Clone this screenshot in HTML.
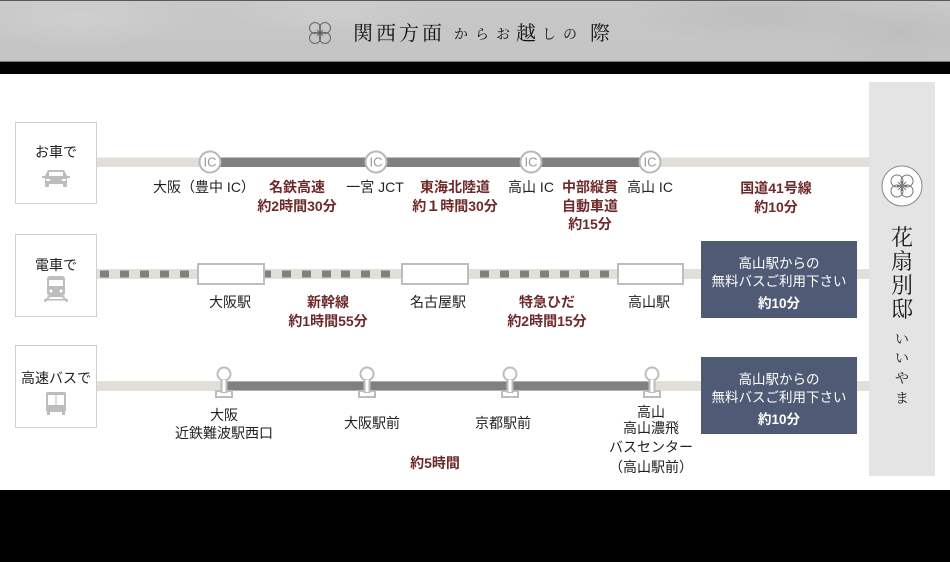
<!DOCTYPE html>
<html><head><meta charset="utf-8">
<style>
html,body{margin:0;padding:0;background:#fff;}
body{width:950px;height:562px;position:relative;overflow:hidden;font-family:"Liberation Sans","Noto Sans CJK JP",sans-serif;}
#hdr{position:absolute;left:0;top:0;width:950px;height:61px;
background:
radial-gradient(ellipse 120px 30px at 80px 18px,rgba(255,255,255,.15),rgba(255,255,255,0)),
radial-gradient(ellipse 100px 25px at 330px 10px,rgba(255,255,255,.12),rgba(255,255,255,0)),
radial-gradient(ellipse 140px 30px at 760px 12px,rgba(120,120,120,.12),rgba(0,0,0,0)),
radial-gradient(ellipse 90px 30px at 900px 30px,rgba(120,120,120,.10),rgba(0,0,0,0)),
linear-gradient(#c8c8c8,#c4c4c4);
border-top:1px solid #5a5a5a;box-sizing:border-box;}
#blk1{position:absolute;left:0;top:61px;width:950px;height:13px;background:#000;border-top:1px solid #7a7a7a;box-sizing:border-box;}
#blk2{position:absolute;left:0;top:490px;width:950px;height:72px;background:#000;}
svg{position:absolute;left:0;top:0;}
</style></head><body>
<div id="hdr"></div>
<div id="blk1"></div>
<div id="blk2"></div>
<svg width="950" height="562" viewBox="0 0 950 562" xmlns="http://www.w3.org/2000/svg">
<!-- header emblem -->
<g transform="translate(320,33)" fill="none" stroke="#666" stroke-width="1">
<circle cx="-5" cy="-5" r="5.5"/><circle cx="5" cy="-5" r="5.5"/><circle cx="-5" cy="5" r="5.5"/><circle cx="5" cy="5" r="5.5"/>
<path d="M-3 -3L3 3M3 -3L-3 3M0 -4V4M-4 0H4"/>
</g>
<g font-family="'Liberation Serif','Noto Serif CJK SC',serif" fill="#111">
<text x="353" y="40" font-size="20">関</text>
<text x="376" y="40" font-size="20">西</text>
<text x="399" y="40" font-size="20">方</text>
<text x="422" y="40" font-size="20">面</text>
<text x="454" y="39" font-size="14">か</text>
<text x="475" y="39" font-size="14">ら</text>
<text x="496" y="39" font-size="14">お</text>
<text x="516" y="40" font-size="20">越</text>
<text x="542" y="39" font-size="14">し</text>
<text x="563" y="39" font-size="14">の</text>
<text x="590" y="40" font-size="20">際</text>
</g>

<!-- right panel -->
<rect x="869" y="82" width="66" height="394" fill="#e4e4e4"/>
<circle cx="902" cy="186" r="20" fill="#fff" stroke="#888" stroke-width="1"/>
<g transform="translate(902,186)" fill="none" stroke="#777" stroke-width="1">
<circle cx="-5" cy="-5" r="6"/><circle cx="5" cy="-5" r="6"/><circle cx="-5" cy="5" r="6"/><circle cx="5" cy="5" r="6"/>
<path d="M-4 -4L4 4M4 -4L-4 4M0 -5V5M-5 0H5"/>
</g>
<g font-family="'Liberation Serif','Noto Serif CJK SC',serif" fill="#1a1a1a" text-anchor="middle">
<text x="902" y="245" font-size="22">花</text>
<text x="902" y="269" font-size="22">扇</text>
<text x="902" y="293" font-size="22">別</text>
<text x="902" y="317" font-size="22">邸</text>
<text x="902" y="344" font-size="14">い</text>
<text x="902" y="363" font-size="14">い</text>
<text x="902" y="383" font-size="14">や</text>
<text x="902" y="403" font-size="14">ま</text>
</g>

<!-- left boxes -->
<g fill="#fff" stroke="#cfcfcf" stroke-width="1">
<rect x="15.5" y="122.5" width="81" height="81"/>
<rect x="15.5" y="234.5" width="81" height="82"/>
<rect x="15.5" y="345.5" width="81" height="82"/>
</g>
<g font-size="14" fill="#222" text-anchor="middle">
<text x="56" y="157">お車で</text>
<text x="56" y="270">電車で</text>
<text x="56" y="383">高速バスで</text>
</g>
<!-- car icon -->
<g fill="#bdbdbd">
<path d="M48 170 H64 L67 176 H70 V178 H67 V184 H45 V178 H42 V176 H45 Z"/>
<rect x="45" y="184" width="4" height="3"/><rect x="63" y="184" width="4" height="3"/>
<rect x="49" y="172" width="14" height="4" fill="#fff"/>
<rect x="46" y="179" width="4" height="2" fill="#fff"/><rect x="62" y="179" width="4" height="2" fill="#fff"/>
</g>
<!-- train icon -->
<g fill="#bdbdbd">
<rect x="47" y="276" width="18" height="20" rx="3"/>
<rect x="49" y="280" width="14" height="6" fill="#fff"/>
<circle cx="51" cy="291" r="1.5" fill="#fff"/><circle cx="61" cy="291" r="1.5" fill="#fff"/>
<path d="M48 296 L44 302 H46 L50 297 H62 L66 302 H68 L64 296 Z"/>
<rect x="44" y="299" width="24" height="1.5"/>
</g>
<!-- bus icon -->
<g fill="#bdbdbd">
<rect x="46" y="392" width="20" height="20" rx="2"/>
<rect x="48" y="395" width="7.5" height="10" fill="#fff"/><rect x="56.5" y="395" width="7.5" height="10" fill="#fff"/>
<rect x="47" y="412" width="3" height="3"/><rect x="62" y="412" width="3" height="3"/>
</g>

<!-- row 1: car -->
<rect x="97" y="157.5" width="772" height="9.5" fill="#e2dfd9"/>
<rect x="210" y="157.5" width="440" height="9.5" fill="#808080"/>
<g fill="#fff" stroke="#b8b8b8" stroke-width="2">
<circle cx="210" cy="162" r="10.5"/><circle cx="376" cy="162" r="10.5"/><circle cx="531" cy="162" r="10.5"/><circle cx="650" cy="162" r="10.5"/>
</g>
<g font-size="13" fill="#999" text-anchor="middle">
<text x="210" y="166.5">IC</text><text x="376" y="166.5">IC</text><text x="531" y="166.5">IC</text><text x="650" y="166.5">IC</text>
</g>
<g font-size="14" fill="#222" text-anchor="middle">
<text x="204" y="192">大阪（豊中 IC）</text>
<text x="375" y="192">一宮 JCT</text>
<text x="531" y="192">高山 IC</text>
<text x="650" y="192">高山 IC</text>
</g>
<g font-size="14" fill="#6e2a2a" font-weight="bold" text-anchor="middle">
<text x="297" y="192">名鉄高速</text>
<text x="297" y="211">約2時間30分</text>
<text x="455" y="192">東海北陸道</text>
<text x="455" y="211">約１時間30分</text>
<text x="590" y="192">中部縦貫</text>
<text x="590" y="211">自動車道</text>
<text x="590" y="229">約15分</text>
<text x="776" y="193">国道41号線</text>
<text x="776" y="212">約10分</text>
</g>

<!-- row 2: train -->
<rect x="97" y="269" width="772" height="10" fill="#e2dfd9"/>
<g fill="#808080">
<rect x="100" y="270.5" width="9" height="7"/><rect x="120" y="270.5" width="9" height="7"/><rect x="140" y="270.5" width="9" height="7"/><rect x="160" y="270.5" width="9" height="7"/><rect x="180" y="270.5" width="9" height="7"/>
<rect x="262" y="270.5" width="9" height="7"/><rect x="282" y="270.5" width="9" height="7"/><rect x="302" y="270.5" width="9" height="7"/><rect x="322" y="270.5" width="9" height="7"/><rect x="341" y="270.5" width="9" height="7"/><rect x="361" y="270.5" width="9" height="7"/><rect x="381" y="270.5" width="9" height="7"/>
<rect x="480" y="270.5" width="9" height="7"/><rect x="500" y="270.5" width="9" height="7"/><rect x="520" y="270.5" width="9" height="7"/><rect x="540" y="270.5" width="9" height="7"/><rect x="560" y="270.5" width="9" height="7"/><rect x="580" y="270.5" width="9" height="7"/><rect x="600" y="270.5" width="9" height="7"/>
</g>
<g fill="#fff" stroke="#bdbdbd" stroke-width="2">
<rect x="198" y="264" width="66" height="20"/>
<rect x="402" y="264" width="66" height="20"/>
<rect x="618" y="264" width="65" height="20"/>
</g>
<g font-size="14" fill="#222" text-anchor="middle">
<text x="230" y="307">大阪駅</text>
<text x="438" y="307">名古屋駅</text>
<text x="649" y="307">高山駅</text>
</g>
<g font-size="14" fill="#6e2a2a" font-weight="bold" text-anchor="middle">
<text x="328" y="307">新幹線</text>
<text x="328" y="326">約1時間55分</text>
<text x="547" y="307">特急ひだ</text>
<text x="547" y="326">約2時間15分</text>
</g>

<!-- row 3: bus -->
<rect x="97" y="381" width="772" height="10" fill="#e2dfd9"/>
<rect x="224" y="381.5" width="428" height="9" fill="#808080"/>
<g fill="#fff" stroke="#bdbdbd" stroke-width="2">
<g transform="translate(224,0)"><rect x="-8" y="391" width="16" height="6"/><rect x="-2.5" y="380" width="5" height="12"/><circle cx="0" cy="374" r="6.5"/><rect x="-1.5" y="380" width="3" height="12" stroke="none"/></g>
<g transform="translate(367,0)"><rect x="-8" y="391" width="16" height="6"/><rect x="-2.5" y="380" width="5" height="12"/><circle cx="0" cy="374" r="6.5"/><rect x="-1.5" y="380" width="3" height="12" stroke="none"/></g>
<g transform="translate(510,0)"><rect x="-8" y="391" width="16" height="6"/><rect x="-2.5" y="380" width="5" height="12"/><circle cx="0" cy="374" r="6.5"/><rect x="-1.5" y="380" width="3" height="12" stroke="none"/></g>
<g transform="translate(652,0)"><rect x="-8" y="391" width="16" height="6"/><rect x="-2.5" y="380" width="5" height="12"/><circle cx="0" cy="374" r="6.5"/><rect x="-1.5" y="380" width="3" height="12" stroke="none"/></g>
</g>
<g font-size="14" fill="#222" text-anchor="middle">
<text x="224" y="420">大阪</text>
<text x="224" y="438">近鉄難波駅西口</text>
<text x="372" y="428">大阪駅前</text>
<text x="503" y="428">京都駅前</text>
<text x="651" y="417">高山</text>
<text x="651" y="433">高山濃飛</text>
<text x="651" y="452">バスセンター</text>
<text x="651" y="472">（高山駅前）</text>
</g>
<text x="435" y="468" font-size="14" fill="#6e2a2a" font-weight="bold" text-anchor="middle">約5時間</text>

<!-- blue boxes -->
<rect x="701" y="241" width="156" height="77" fill="#4f5b75"/>
<rect x="701" y="357" width="156" height="77" fill="#4f5b75"/>
<g font-size="13.5" fill="#fff" text-anchor="middle">
<text x="779" y="268">高山駅からの</text>
<text x="779" y="286">無料バスご利用下さい</text>
<text x="779" y="308" font-weight="bold">約10分</text>
<text x="779" y="384">高山駅からの</text>
<text x="779" y="402">無料バスご利用下さい</text>
<text x="779" y="424" font-weight="bold">約10分</text>
</g>
</svg>
</body></html>
